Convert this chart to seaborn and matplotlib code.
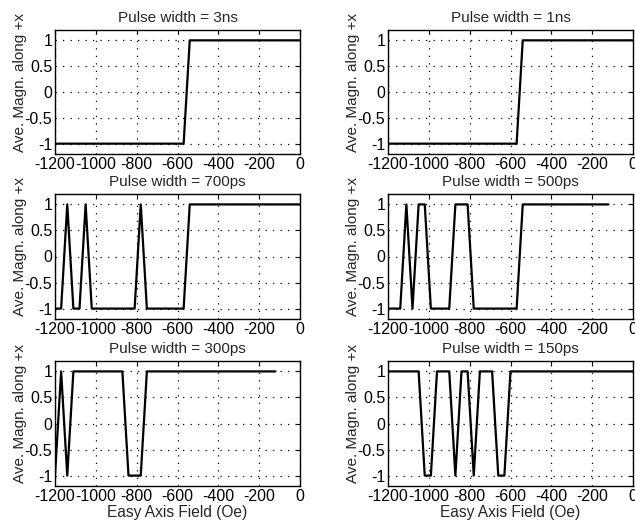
import matplotlib
matplotlib.use("Agg")
import matplotlib.pyplot as plt
import seaborn as sns
import pandas as pd

titles = ["Pulse width = 3ns", "Pulse width = 1ns", "Pulse width = 700ps",
          "Pulse width = 500ps", "Pulse width = 300ps", "Pulse width = 150ps"]

x_3ns = [-1200, -570, -540, 0]
y_3ns = [-1, -1, 1, 1]
x_1ns = [-1200, -570, -540, 0]
y_1ns = [-1, -1, 1, 1]
x_700ps = [-1200, -1170, -1140, -1110, -1080, -1050, -1020, -810, -780, -750, -570, -540, 0]
y_700ps = [-1, -1, 1, -1, -1, 1, -1, -1, 1, -1, -1, 1, 1]
x_500ps = [-1200, -1140, -1110, -1080, -1050, -1020, -990, -900, -870, -810, -780, -570, -540, -120]
y_500ps = [-1, -1, 1, -1, 1, 1, -1, -1, 1, 1, -1, -1, 1, 1]
x_300ps = [-1200, -1170, -1140, -1110, -870, -840, -780, -750, -120]
y_300ps = [-1, 1, -1, 1, 1, -1, -1, 1, 1]
x_150ps = [-1200, -1050, -1020, -990, -960, -900, -870, -840, -810, -780, -750, -690, -660, -630, -600, 0]
y_150ps = [1, 1, -1, -1, 1, 1, -1, 1, 1, -1, 1, 1, -1, -1, 1, 1]

xs = [x_3ns, x_1ns, x_700ps, x_500ps, x_300ps, x_150ps]
ys = [y_3ns, y_1ns, y_700ps, y_500ps, y_300ps, y_150ps]

xticks = [-1200, -1000, -800, -600, -400, -200, 0]
xticklabels = ["-1200", "-1000", "-800", "-600", "-400", "-200", "0"]
yticks = [-1, -0.5, 0, 0.5, 1]
yticklabels = ["-1", "-0.5", "0", "0.5", "1"]
ylabel = "Ave. Magn. along +x"
xlabel = "Easy Axis Field (Oe)"

sns.set_style("white")
plt.rcParams["font.family"] = ["Liberation Sans", "DejaVu Sans"]
plt.rcParams["font.size"] = 11

fig = plt.figure(figsize=(6.35, 5.25), dpi=100)
W, H = 635, 525
cols = [55, 388]
rows = [(30, 154), (194, 319), (361, 486)]
aw = 245

for i in range(6):
    r, c = divmod(i, 2)
    top, bot = rows[r]
    ax = fig.add_axes([cols[c] / W, 1 - bot / H, aw / W, (bot - top) / H])
    df = pd.DataFrame({"x": xs[i], "y": ys[i]})
    sns.lineplot(data=df, x="x", y="y", ax=ax, color="black", linewidth=1.6,
                 estimator=None, sort=False)
    ax.set_xlim(-1200, 0)
    ax.set_ylim(-1.2, 1.2)
    ax.set_xticks(xticks)
    ax.set_xticklabels(xticklabels, fontsize=11.5)
    ax.set_yticks(yticks)
    ax.set_yticklabels(yticklabels, fontsize=11.5)
    ax.grid(True, linestyle=(0, (1, 5)), color="black", linewidth=0.9)
    ax.tick_params(direction="in", length=3, width=0.8, top=True, right=True,
                   pad=2, colors="black")
    for s in ax.spines.values():
        s.set_color("black")
        s.set_linewidth(1.0)
    ax.set_title(titles[i], fontsize=11, pad=6)
    ax.set_ylabel(ylabel, fontsize=11)
    ax.yaxis.set_label_coords(-0.115, 0.58)
    if r == 2:
        ax.set_xlabel(xlabel, fontsize=11.2, labelpad=1)
    else:
        ax.set_xlabel("")

fig.savefig("out.png", dpi=100)
